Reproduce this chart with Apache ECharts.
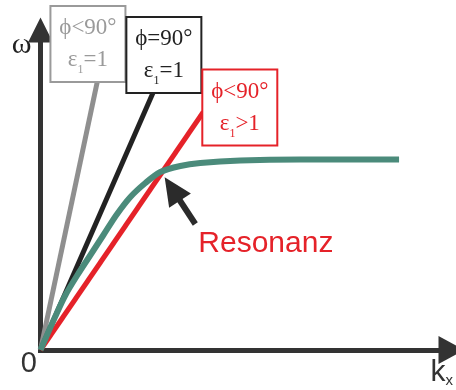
<!DOCTYPE html>
<html>
<head>
<meta charset="utf-8">
<script src="https://cdn.jsdelivr.net/npm/echarts@6/dist/echarts.min.js"></script>
<style>
  html, body { margin: 0; padding: 0; background: #fff; }
  #chart { width: 456px; height: 390px; }
</style>
</head>
<body>
<div id="chart"></div>
<script>
// Light lines ω = c·k_x / (√ε1 · sin ϕ) for three cases, plus the coupled branch
const lineGray  = [[0, 0], [5.7, 26.9]];   // ϕ<90°, ε1=1
const lineBlack = [[0, 0], [11.3, 25.8]];  // ϕ=90°, ε1=1
const lineRed   = [[0, 0], [16.3, 23.8]];  // ϕ<90°, ε1>1

// Dispersion branch that bends over and saturates
const branch = [
  [0, 0], [1.5, 3.4], [2.5, 5.5], [3.7, 7.5], [5.0, 9.5], [6.3, 11.5],
  [7.6, 13.5], [9.0, 15.3], [10.5, 16.7], [12.0, 17.8], [14.0, 18.4],
  [16.0, 18.7], [20.0, 18.95], [26.0, 19.05], [35.9, 19.05]
];

// Pointer to the crossing point (tail, arrow head centre)
const resonanceArrow = [[15.5, 12.6], [13.2, 16.1]];

// Box captions: [first line, value after ε1]
const captionGray  = ['ϕ<90°', '=1'];
const captionBlack = ['ϕ=90°', '=1'];
const captionRed   = ['ϕ<90°', '>1'];

const SERIF = '"Liberation Serif", "DejaVu Serif", serif';
const SANS = '"Liberation Sans", Arial, sans-serif';

function boxLabel(caption, color, position, offset) {
  const big = { fontFamily: SERIF, fontSize: 23, lineHeight: 32, color: color, align: 'center' };
  return {
    show: true,
    position: position,
    distance: 0,
    offset: offset,
    formatter: '{p|' + caption[0] + '}\n{p|ε}{s|1}{p|' + caption[1] + '}',
    backgroundColor: '#fff',
    borderColor: color,
    borderWidth: 2,
    padding: [5, 6, 5, 6],
    width: 61,
    rich: {
      p: big,
      s: { fontFamily: SERIF, fontSize: 12, lineHeight: 18, verticalAlign: 'bottom', color: color, align: 'center' }
    }
  };
}

function withEndLabel(points, label) {
  return points.map((p, i) => i === points.length - 1 ? { value: p, label: label } : p);
}

function straight(name, points, color, label) {
  return {
    name: name,
    type: 'line',
    data: withEndLabel(points, label),
    symbol: 'circle',
    symbolSize: 0,
    clip: false,
    silent: true,
    lineStyle: { color: color, width: 5 },
    itemStyle: { color: color },
    label: { show: false }
  };
}

const chart = echarts.init(document.getElementById('chart'), null, { renderer: 'canvas' });

chart.setOption({
  animation: false,
  backgroundColor: '#fff',
  grid: { left: 40.5, right: 5.5, top: 30, bottom: 40 },
  xAxis: {
    type: 'value', min: 0, max: 41, interval: 41,
    name: '{k|k}{x|x}',
    nameLocation: 'end',
    nameGap: -19.5,
    nameTextStyle: {
      align: 'left', verticalAlign: 'middle', padding: [46, 0, 0, 0],
      rich: {
        k: { fontFamily: SANS, fontSize: 30, lineHeight: 30, color: '#333' },
        x: { fontFamily: SANS, fontSize: 15, lineHeight: 10, verticalAlign: 'bottom', color: '#333' }
      }
    },
    axisLine: {
      symbol: ['none', 'triangle'], symbolSize: [28, 26], symbolOffset: [0, 1.5],
      lineStyle: { color: '#333', width: 5, cap: 'square' }
    },
    axisTick: { show: false },
    splitLine: { show: false },
    axisLabel: {
      formatter: v => (v === 0 ? '0' : ''),
      fontFamily: SANS, fontSize: 29, color: '#333',
      align: 'right', margin: -1, padding: [0, 3.5, 0, 0]
    }
  },
  yAxis: {
    type: 'value', min: 0, max: 32,
    name: 'ω',
    nameLocation: 'end',
    nameGap: -15.5,
    nameTextStyle: {
      fontFamily: SERIF, fontSize: 30, color: '#222',
      align: 'right', verticalAlign: 'middle', padding: [0, 9, 0, 0]
    },
    axisLine: {
      symbol: ['none', 'triangle'], symbolSize: [25, 25],
      lineStyle: { color: '#333', width: 5, cap: 'square' }
    },
    axisTick: { show: false },
    splitLine: { show: false },
    axisLabel: { show: false }
  },
  series: [
    straight('gray', lineGray, '#8f8f8f', boxLabel(captionGray, '#9a9a9a', 'top', [-9.5, 0])),
    straight('black', lineBlack, '#222', boxLabel(captionBlack, '#222', 'top', [10.5, 0])),
    straight('red', lineRed, '#e52229', boxLabel(captionRed, '#e52229', 'right', [0, -4.5])),
    {
      name: 'branch',
      type: 'line',
      data: branch,
      smooth: 0.3,
      showSymbol: false,
      clip: false,
      silent: true,
      lineStyle: { color: '#4b8b7b', width: 6 },
      itemStyle: { color: '#4b8b7b' },
      markLine: {
        silent: true,
        symbol: ['none', 'triangle'],
        symbolSize: [26, 28],
        label: { show: false },
        lineStyle: { color: '#2b2b2b', width: 6, type: 'solid' },
        data: [[{ coord: resonanceArrow[0] }, { coord: resonanceArrow[1] }]]
      },
      markPoint: {
        silent: true,
        symbol: 'circle',
        symbolSize: 0,
        data: [{ coord: resonanceArrow[0] }],
        label: {
          show: true, formatter: 'Resonanz', position: 'right', distance: 3, offset: [0, 20],
          fontFamily: SANS, fontSize: 30, color: '#e52229'
        }
      }
    }
  ]
});
</script>
</body>
</html>
